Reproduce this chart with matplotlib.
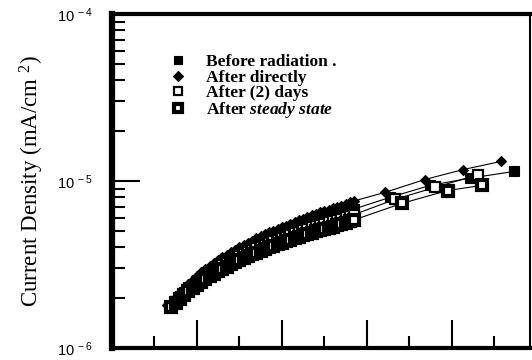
import matplotlib
matplotlib.use("Agg")
import matplotlib.pyplot as plt
from matplotlib.ticker import LogLocator, NullFormatter, FixedLocator

# ---- data: x in arbitrary voltage units, y in units of 1e-6 mA/cm^2 ----
x_dense = [0.70, 0.75, 0.80, 0.85, 0.90, 0.95, 1.00, 1.05, 1.10, 1.15, 1.20,
           1.25, 1.30, 1.35, 1.40, 1.45, 1.50, 1.55, 1.60, 1.65, 1.70, 1.75,
           1.80, 1.85, 1.90, 1.95, 2.00, 2.05, 2.10, 2.15, 2.20, 2.25, 2.30,
           2.35, 2.40, 2.45, 2.50, 2.55, 2.60, 2.65, 2.70, 2.75, 2.80, 2.85]

before_x = x_dense + [3.27, 3.74, 4.21, 4.73]
before_y = [1.79, 1.91, 2.04, 2.17, 2.31, 2.43, 2.55, 2.68, 2.80, 2.91, 3.02,
            3.14, 3.26, 3.37, 3.49, 3.60, 3.72, 3.83, 3.95, 4.06, 4.18, 4.29,
            4.41, 4.52, 4.63, 4.75, 4.86, 4.96, 5.06, 5.18, 5.31, 5.42, 5.54,
            5.65, 5.77, 5.87, 5.97, 6.08, 6.18, 6.29, 6.40, 6.53, 6.67, 6.80,
            7.97, 9.40, 10.4, 11.4]

direct_x = [0.65] + x_dense + [3.21, 3.68, 4.13, 4.58]
direct_y = [1.80, 1.83, 1.97, 2.12, 2.27, 2.42, 2.56, 2.70, 2.84, 2.97, 3.10,
            3.22, 3.36, 3.49, 3.62, 3.75, 3.88, 4.01, 4.14, 4.27, 4.40, 4.53,
            4.66, 4.79, 4.92, 5.04, 5.18, 5.30, 5.41, 5.53, 5.68, 5.82, 5.95,
            6.08, 6.22, 6.35, 6.48, 6.60, 6.73, 6.86, 7.00, 7.13, 7.29, 7.45,
            7.60, 8.54, 10.2, 11.7, 13.1]

days2_x = x_dense + [3.33, 3.80, 4.31]
days2_y = [1.77, 1.88, 2.00, 2.12, 2.24, 2.36, 2.47, 2.59, 2.70, 2.80, 2.90,
           3.01, 3.12, 3.22, 3.33, 3.43, 3.54, 3.64, 3.74, 3.85, 3.95, 4.05,
           4.16, 4.26, 4.36, 4.46, 4.56, 4.65, 4.74, 4.85, 4.96, 5.07, 5.17,
           5.27, 5.37, 5.47, 5.56, 5.65, 5.74, 5.84, 5.94, 6.06, 6.18, 6.30,
           7.76, 9.15, 10.9]

steady_x = x_dense + [3.41, 3.95, 4.35]
steady_y = [1.75, 1.85, 1.96, 2.07, 2.18, 2.29, 2.39, 2.49, 2.59, 2.69, 2.78,
            2.88, 2.98, 3.07, 3.17, 3.26, 3.36, 3.45, 3.54, 3.63, 3.73, 3.82,
            3.91, 4.00, 4.09, 4.18, 4.27, 4.35, 4.43, 4.53, 4.63, 4.72, 4.82,
            4.91, 5.00, 5.09, 5.17, 5.25, 5.34, 5.43, 5.52, 5.63, 5.74, 5.85,
            7.34, 8.77, 9.40]

Y_UNIT = 1e-6  # values above are in units of 1e-6 mA/cm^2

series_labels = ["Before radiation .", "After directly", "After (2) days",
                 "After $\\it{steady\\ state}$"]
ytick_vals = [1e-6, 1e-5, 1e-4]
ytick_labels = ["$\\mathsf{10^{\\ -6}}$", "$\\mathsf{10^{\\ -5}}$",
                "$\\mathsf{10^{\\ -4}}$"]
ylabel = "Current Density (mA/cm $^{2}$)"

plt.rcParams['mathtext.fontset'] = 'custom'
plt.rcParams['mathtext.rm'] = 'Liberation Serif'
plt.rcParams['mathtext.sf'] = 'Liberation Sans'
plt.rcParams['mathtext.it'] = 'Liberation Serif:bold:italic'
plt.rcParams['mathtext.bf'] = 'Liberation Serif:bold'

fig = plt.figure(figsize=(5.32, 3.60), dpi=100)
ax = fig.add_axes([112 / 532, 12 / 360, (530 - 112) / 532, (347 - 13) / 360])
ax.set_yscale("log")
ax.set_xlim(0, 4.92)
ax.set_ylim(1e-6, 1e-4)

def scaled(vals):
    return [v * Y_UNIT for v in vals]

ax.plot(before_x, scaled(before_y), color="black", lw=0.8, marker="s", ms=7.5,
        mfc="black", mec="black", mew=0.8, label=series_labels[0], zorder=3)
ax.plot(direct_x, scaled(direct_y), color="black", lw=0.8, marker="D", ms=5.5,
        mfc="black", mec="black", mew=0.8, label=series_labels[1], zorder=3)
ax.plot(days2_x, scaled(days2_y), color="black", lw=0.8, marker="s", ms=7,
        mfc="white", mec="black", mew=1.6, label=series_labels[2], zorder=3)
ax.plot(steady_x, scaled(steady_y), color="black", lw=0.8, marker="s", ms=7.5,
        mfc="white", mec="black", mew=3.0, label=series_labels[3], zorder=3)

# spines
ax.spines["left"].set_linewidth(4.5)
ax.spines["bottom"].set_linewidth(3.0)
ax.spines["top"].set_linewidth(3.0)
ax.spines["right"].set_linewidth(1.5)

# y ticks
ax.yaxis.set_major_locator(FixedLocator(ytick_vals))
ax.set_yticklabels(ytick_labels, fontsize=10.5)
ax.yaxis.set_minor_locator(LogLocator(base=10, subs=[2, 3, 4, 5, 6, 7, 8, 9]))
ax.yaxis.set_minor_formatter(NullFormatter())
ax.tick_params(axis="y", which="major", direction="in", length=20, width=1.5,
               pad=14, right=False)
ax.tick_params(axis="y", which="minor", direction="in", length=9, width=1.5,
               right=False)

# x ticks (labels cropped away in the reference)
ax.set_xticks([0, 1, 2, 3, 4])
ax.set_xticks([0.5, 1.5, 2.5, 3.5, 4.5], minor=True)
ax.tick_params(axis="x", which="major", direction="in", length=20, width=1.5,
               labelbottom=False, top=False)
ax.tick_params(axis="x", which="minor", direction="in", length=9, width=1.5,
               top=False)

ax.set_ylabel(ylabel, family="Liberation Serif", fontsize=16.5, labelpad=8)

leg = ax.legend(loc="upper left", bbox_to_anchor=(0.12, 0.90), frameon=False,
                prop={"family": "Liberation Serif", "weight": "bold", "size": 12.5},
                handlelength=1.0, handletextpad=1.1, labelspacing=-0.05,
                borderaxespad=0, markerscale=0.85)
for h in leg.legend_handles:
    h.set_linestyle("none")

fig.savefig("out.png", dpi=100)
